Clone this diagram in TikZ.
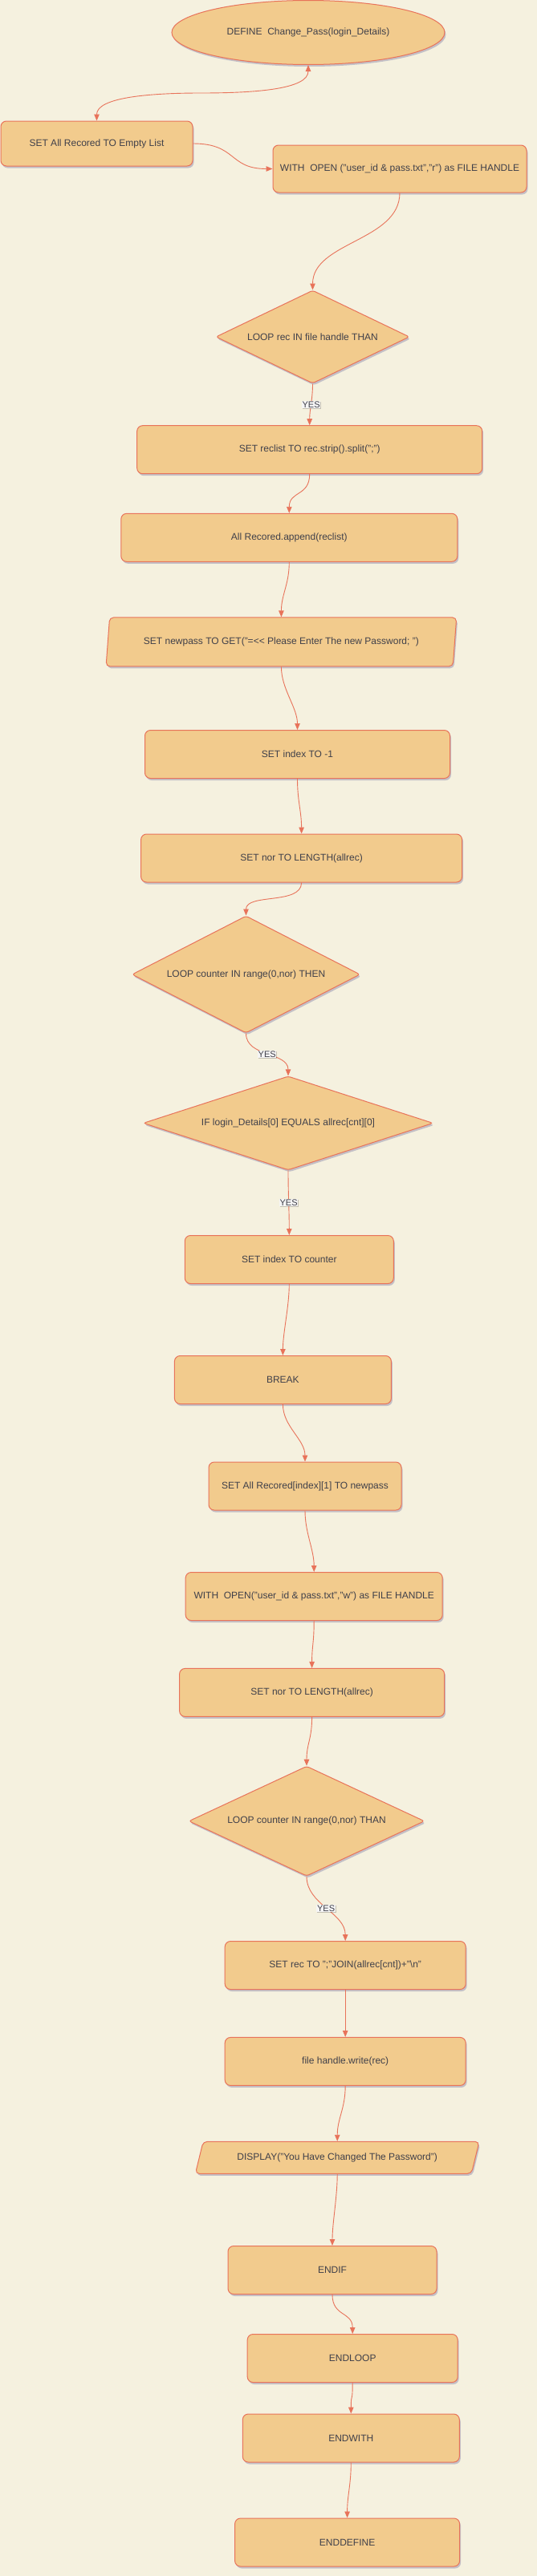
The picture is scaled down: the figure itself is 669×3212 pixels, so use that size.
\documentclass[tikz,border=0pt]{standalone}
\usepackage{fontspec}
\setmainfont{Liberation Sans}
\usetikzlibrary{shapes.geometric,shadows,arrows.meta}

\definecolor{pagebg}{RGB}{245,241,223}
\definecolor{boxfill}{RGB}{242,203,141}
\definecolor{boxline}{RGB}{232,115,90}
\definecolor{boxtext}{RGB}{64,64,74}

\begin{document}
\begin{tikzpicture}[x=1pt, y=-1pt,
  font=\fontsize{12}{14}\selectfont, text=boxtext,
  boxshadow/.style={drop shadow={shadow xshift=1.5pt, shadow yshift=-2.5pt, fill=black!60!blue, opacity=0.2}},
  procbox/.style={rectangle, rounded corners=7pt, draw=boxline, fill=boxfill, line width=1pt, inner sep=0pt, boxshadow},
  decision/.style={diamond, aspect=3, rounded corners=3pt, draw=boxline, fill=boxfill, line width=1pt, inner sep=0pt, boxshadow},
  iobox/.style={trapezium, trapezium stretches=true, rounded corners=5pt, draw=boxline, fill=boxfill, line width=1pt, inner sep=0pt, boxshadow},
  startend/.style={ellipse, draw=boxline, fill=boxfill, line width=1pt, inner sep=0pt, boxshadow},
  >={Triangle[length=8pt, width=6.5pt]},
  flow/.style={draw=boxline, line width=0.9pt, ->},
  yeslbl/.style={fill=white!96!black, font=\fontsize{11}{12}\selectfont, inner sep=0.6pt,
    drop shadow={shadow xshift=1pt, shadow yshift=-1pt, fill=black, opacity=0.2}}]

\useasboundingbox (0,0) rectangle (669,3212);

\fill[pagebg] (0,0) rectangle (669,3212);

\node[startend, minimum width=340, minimum height=80] (defn) at (384,40.5) {DEFINE~ Change\_Pass(login\_Details)};

\node[procbox, minimum width=239, minimum height=56] (setall) at (120.5,179) {SET All Recored TO Empty List};

\node[procbox, minimum width=316, minimum height=59] (withr) at (498,210.5) {WITH~ OPEN ("user\_id \& pass.txt","r") as FILE HANDLE};

\node[decision, minimum width=241, minimum height=116] (loopa) at (389.5,420) {LOOP rec IN file handle THAN};

\node[procbox, minimum width=430, minimum height=60] (reclist) at (385.7,560.7) {SET reclist TO rec.strip().split(";")};

\node[procbox, minimum width=419, minimum height=60] (append) at (360.3,670.3) {All Recored.append(reclist)};

\node[iobox, trapezium left angle=72, trapezium right angle=108, minimum width=437, minimum height=61] (newpass) at (350.4,800.4) {SET newpass TO GET("=<{}< Please Enter The new Password; ")};

\node[procbox, minimum width=380, minimum height=60] (idxa) at (370.5,940.5) {SET index TO -1};

\node[procbox, minimum width=400, minimum height=60] (nora) at (375.6,1070) {SET nor TO LENGTH(allrec)};

\node[decision, minimum width=284, minimum height=146] (loopb) at (306.5,1215) {LOOP counter IN range(0,nor) THEN};

\node[decision, minimum width=361, minimum height=117] (ifeq) at (359,1400.4) {IF login\_Details[0] EQUALS allrec[cnt][0]};

\node[procbox, minimum width=260, minimum height=60] (idxb) at (360.3,1570.5) {SET index TO counter};

\node[procbox, minimum width=270, minimum height=60] (brk) at (352.4,1720.5) {BREAK};

\node[procbox, minimum width=240, minimum height=60] (setpass) at (380,1853) {SET All Recored[index][1] TO newpass};

\node[procbox, minimum width=320, minimum height=60] (withw) at (391.2,1990.5) {WITH~ OPEN("user\_id \& pass.txt","w") as FILE HANDLE};

\node[procbox, minimum width=330, minimum height=60] (norb) at (388.6,2110.4) {SET nor TO LENGTH(allrec)};

\node[decision, minimum width=293.5, minimum height=137] (loopc) at (382,2270.7) {LOOP counter IN range(0,nor) THAN};

\node[procbox, minimum width=300, minimum height=60] (setrec) at (430.2,2450.5) {SET rec TO ";"JOIN(allrec[cnt])+"\textbackslash n"};

\node[procbox, minimum width=300, minimum height=60] (write) at (430.2,2570.4) {file handle.write(rec)};

\node[iobox, trapezium left angle=57, trapezium right angle=123, minimum width=354, minimum height=40] (disp) at (420.2,2690.3) {DISPLAY("You Have Changed The Password")};

\node[procbox, minimum width=260, minimum height=60] (endif) at (414,2830.5) {ENDIF};

\node[procbox, minimum width=262, minimum height=60] (endloop) at (439.2,2940.5) {ENDLOOP};

\node[procbox, minimum width=270, minimum height=60] (endwith) at (437.3,3040) {ENDWITH};

\node[procbox, minimum width=280, minimum height=60] (enddef) at (432.6,3170) {ENDDEFINE};

\coordinate (bendtop) at (250,116);

\draw[flow, <->] (defn.south) .. controls +(0,30) and +(70,0) .. (bendtop) .. controls +(-70,0) and +(0,-28) .. (setall.north);

\draw[flow] (setall.east) .. controls +(55,0) and +(-55,0) .. (withr.west);

\draw[flow] (withr.south) .. controls +(0,60) and +(0,-60) .. (loopa.north);

\draw[flow] (loopa.south) .. controls +(0,20) and +(0,-20) .. (reclist.north) node[yeslbl, pos=0.5] (yesa) {YES};

\draw[flow] (loopb.south) .. controls +(0,30) and +(0,-30) .. (ifeq.north) node[yeslbl, pos=0.5] (yesb) {YES};

\draw[flow] (ifeq.south) .. controls +(0,30) and +(0,-30) .. (idxb.north) node[yeslbl, pos=0.5] (yesc) {YES};

\draw[flow] (loopc.south) .. controls +(0,35) and +(0,-35) .. (setrec.north) node[yeslbl, pos=0.5] (yesd) {YES};

\foreach \a/\b in {reclist/append, append/newpass, newpass/idxa, idxa/nora, nora/loopb,
  idxb/brk, brk/setpass, setpass/withw, withw/norb, norb/loopc,
  setrec/write, write/disp, disp/endif, endif/endloop, endloop/endwith, endwith/enddef}
  \draw[flow] (\a.south) .. controls +(0,28) and +(0,-28) .. (\b.north);

\end{tikzpicture}
\end{document}
